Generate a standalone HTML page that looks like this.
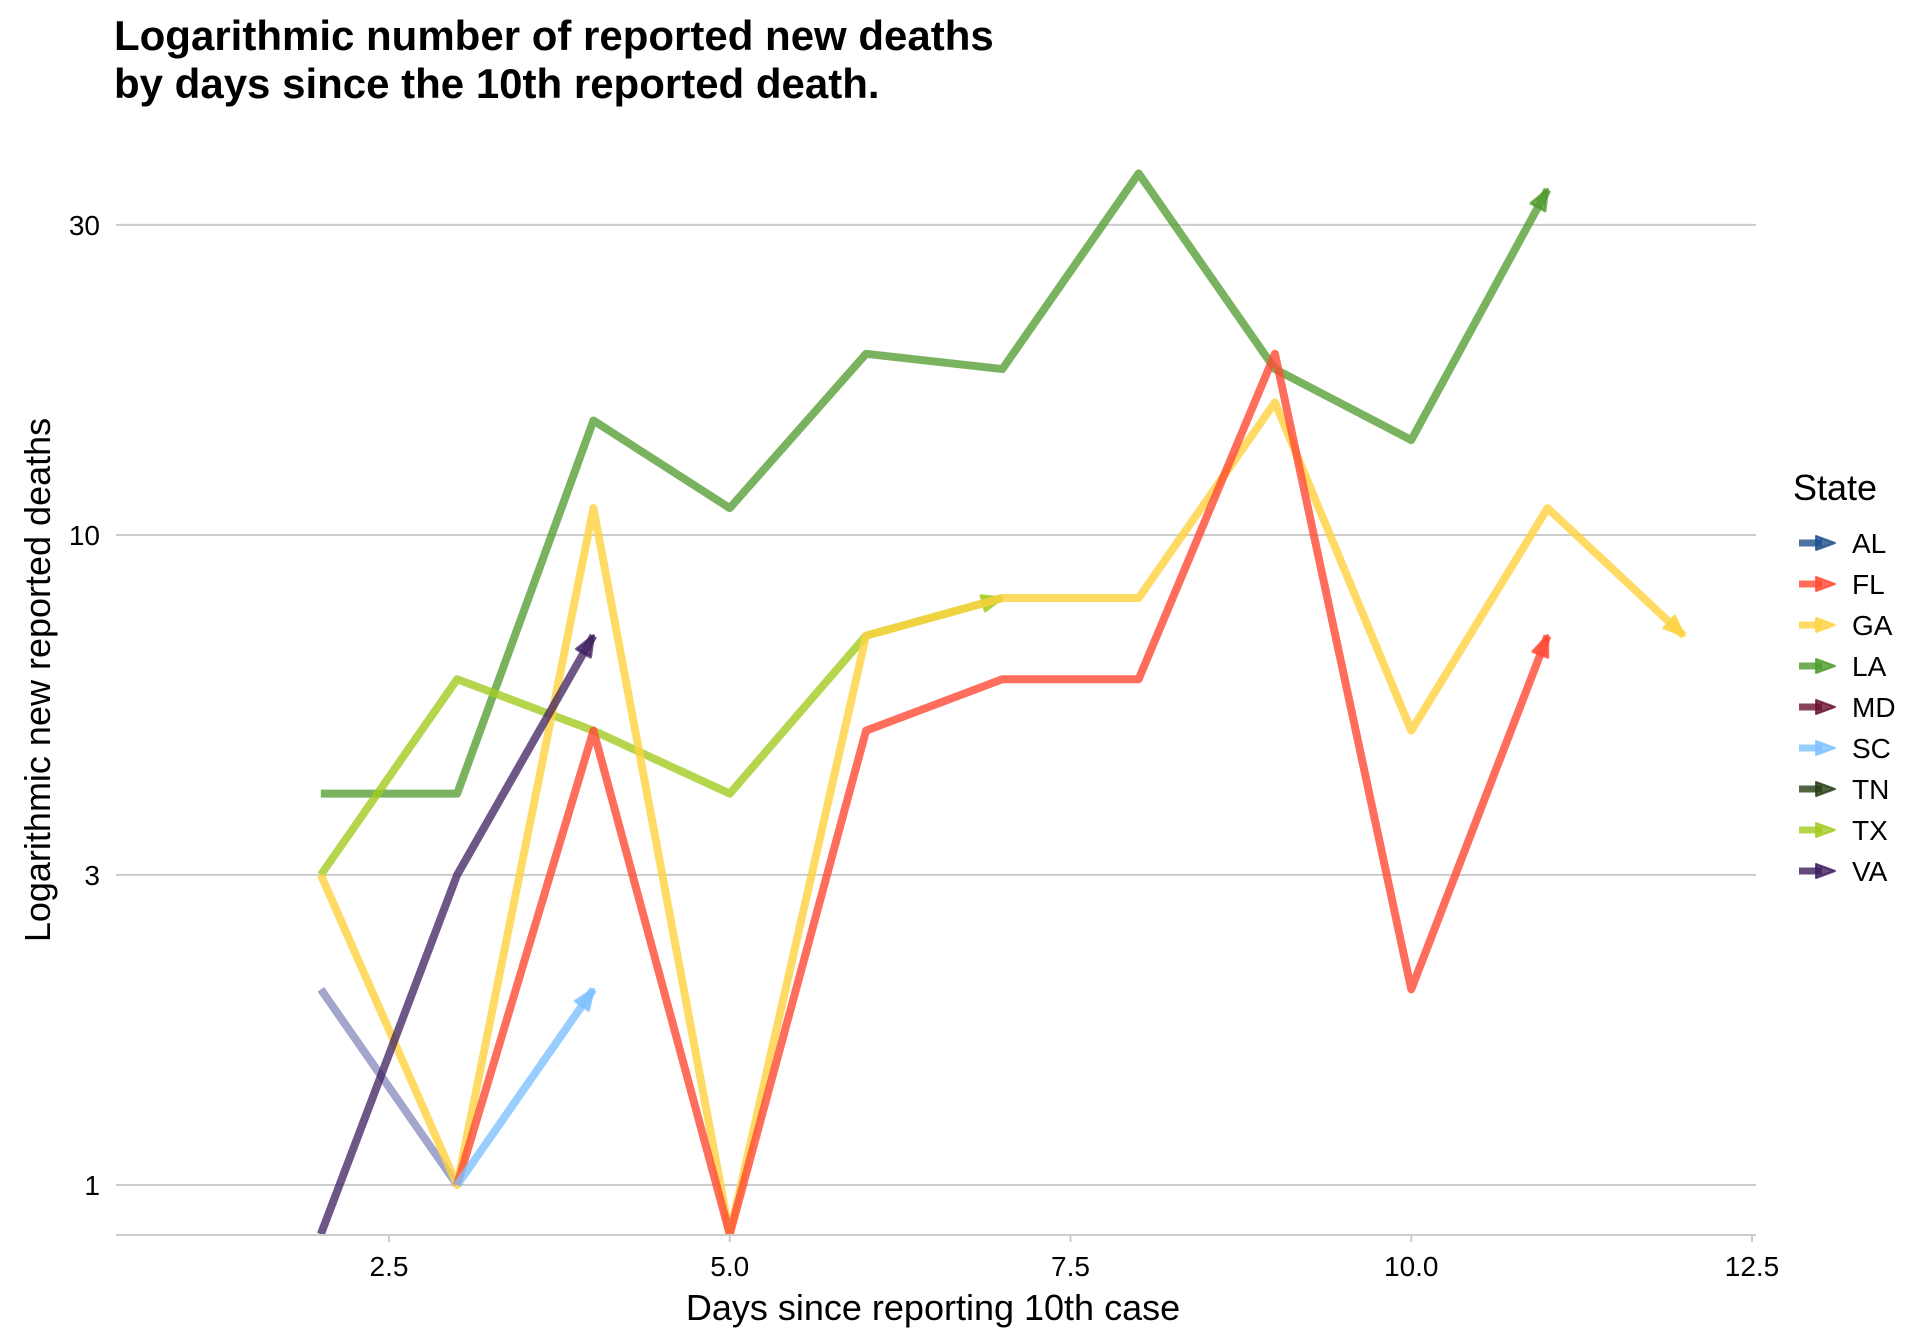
<!DOCTYPE html>
<html><head><meta charset="utf-8"><style>
html,body{margin:0;padding:0;background:#fff}
svg{display:block;font-family:"Liberation Sans",Arial,sans-serif}
</style></head><body>
<svg id="chart" width="1920" height="1344" viewBox="0 0 1920 1344">
<text x="114" y="50" font-size="42" font-weight="bold" fill="#000">Logarithmic number of reported new deaths</text>
<text x="114" y="98" font-size="42" font-weight="bold" fill="#000">by days since the 10th reported death.</text>
<g id="grid"></g><g id="series" clip-path="url(#plotclip)"></g><g id="axes"></g><g id="legend"></g>
<defs><clipPath id="plotclip"><rect x="116" y="100" width="1640" height="1134"/></clipPath></defs>
<text x="933" y="1320" font-size="36" text-anchor="middle">Days since reporting 10th case</text>
<text transform="translate(50,680) rotate(-90)" font-size="36" text-anchor="middle">Logarithmic new reported deaths</text>
</svg>
<script>
const yTicks=[1,3,10,30];
const yTickLabels=["1","3","10","30"];
const xTicks=[2.5,5,7.5,10,12.5];
const xTickLabels=["2.5","5.0","7.5","10.0","12.5"];
const states=["AL","FL","GA","LA","MD","SC","TN","TX","VA"];
const legendColors=["#1f4e8c","#ff4a33","#ffd23f","#4e9a2a","#6b1233","#7ec0ff","#253d12","#a2cc1f","#3d1d5e"];
const laX=[2,3,4,5,6,7,8,9,10,11];const laY=[4,4,15,11,19,18,36,18,14,34];
const flX=[3,4,5,6,7,8,9,10,11];const flY=[1,5,0.84,5,6,6,19,2,7];
const gaX=[2,3,4,5,6,7,8,9,10,11,12];const gaY=[3,1,11,0.84,7,8,8,16,5,11,7];
const txX=[2,3,4,5,6,7];const txY=[3,6,5,4,7,8];
const vaX=[2,3,4];const vaY=[0.84,3,7];
const scX=[3,4];const scY=[1,2];
const alX=[2,3];const alY=[2,1];
const NS="http://www.w3.org/2000/svg";
const sx=v=>389+(v-2.5)*136.3;
const sy=v=>535-650*Math.log10(v/10);
function mk(tag,attrs,parent){const e=document.createElementNS(NS,tag);for(const k in attrs)e.setAttribute(k,attrs[k]);parent.appendChild(e);return e;}
const grid=document.getElementById('grid'),axes=document.getElementById('axes'),ser=document.getElementById('series'),leg=document.getElementById('legend');
yTicks.forEach((t,i)=>{
 const l=mk('line',{x1:116,x2:1756,y1:sy(t),y2:sy(t),stroke:'#cccccc','stroke-width':2},grid);
 
 
 const tx=mk('text',{x:100,y:sy(t)+10,'font-size':28,'text-anchor':'end'},axes);tx.textContent=yTickLabels[i];
 
 
});
const base=mk('line',{x1:116,x2:1756,y1:1235,y2:1235,stroke:'#cccccc','stroke-width':2},axes);


xTicks.forEach((t,i)=>{
 mk('line',{x1:sx(t),x2:sx(t),y1:1235,y2:1242,stroke:'#cccccc','stroke-width':2},axes);
 const tx=mk('text',{x:sx(t),y:1276,'font-size':28,'text-anchor':'middle'},axes);tx.textContent=xTickLabels[i];
 
 
});
function draw(xs,ys,color,op,name,arrow){
 const pts=xs.map((x,i)=>[sx(x),sy(ys[i])]);
 const p=mk('polyline',{points:pts.map(p=>p.join(',')).join(' '),fill:'none',stroke:color,'stroke-opacity':op,'stroke-width':8,'stroke-linejoin':'round'},ser);
 
 
 if(arrow){const a=pts[pts.length-1],b=pts[pts.length-2];const ang=Math.atan2(a[1]-b[1],a[0]-b[0]);const L=20,W=8;
  const bx=a[0]-L*Math.cos(ang),by=a[1]-L*Math.sin(ang);
  const q=[[a[0],a[1]],[bx+W*Math.sin(ang),by-W*Math.cos(ang)],[bx-W*Math.sin(ang),by+W*Math.cos(ang)]];
  const h=mk('polygon',{points:q.map(p=>p.join(',')).join(' '),fill:color,'fill-opacity':op,stroke:color,'stroke-opacity':op,'stroke-width':3,'stroke-linejoin':'round'},ser);
  
  }
}
draw(alX,alY,'#7a80b8',0.7,'al',false);
draw(laX,laY,'#4e9a2a',0.75,'la',true);
draw(txX,txY,'#a2cc1f',0.8,'tx',true);
draw(gaX,gaY,'#ffd23f',0.8,'ga',true);
draw(flX,flY,'#ff4a33',0.8,'fl',true);
draw(scX,scY,'#7ec0ff',0.8,'sc',true);
draw(vaX,vaY,'#3d1d5e',0.75,'va',true);
const lt=mk('text',{x:1793,y:500,'font-size':36},leg);lt.textContent='State';


states.forEach((s,i)=>{
 const y=543+i*41;
 const g=mk('g',{},leg);
 
 
 mk('line',{x1:1799,x2:1822,y1:y,y2:y,stroke:legendColors[i],'stroke-opacity':0.8,'stroke-width':7},g);
 mk('polygon',{points:`${1835},${y} ${1816},${y-7} ${1816},${y+7}`,fill:legendColors[i],'fill-opacity':0.8,stroke:legendColors[i],'stroke-opacity':0.8,'stroke-width':2,'stroke-linejoin':'round'},g);
 const t=mk('text',{x:1852,y:y+10,'font-size':28},g);t.textContent=s;
});
</script>
</body></html>
